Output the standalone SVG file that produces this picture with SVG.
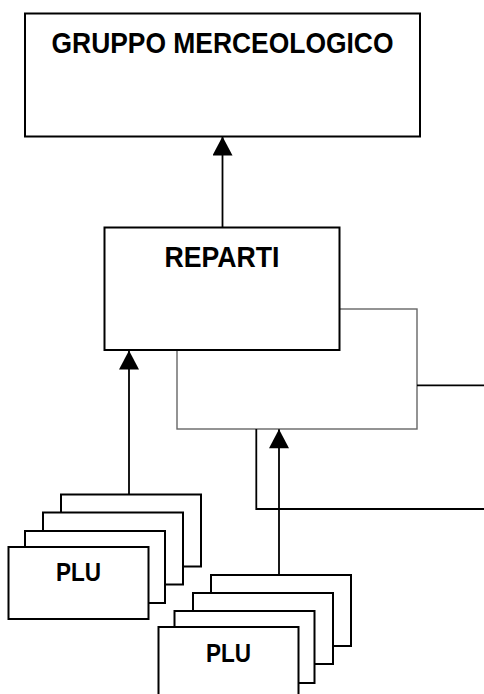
<svg xmlns="http://www.w3.org/2000/svg" width="484" height="694" viewBox="0 0 484 694">
<defs>
<style>
.box{fill:#fff;stroke:#000;stroke-width:2}
.gray{fill:none;stroke:#666;stroke-width:1.4}
.ln{fill:none;stroke:#000;stroke-width:1.8}
.t{font-family:"Liberation Sans",Arial,sans-serif;font-weight:bold;fill:#000;text-anchor:middle}
.big{font-size:30px}
.small{font-size:25.5px}
</style>
<marker id="ah" markerUnits="userSpaceOnUse" markerWidth="20" markerHeight="20" viewBox="0 0 19 20" refX="19" refY="10" orient="auto">
<path d="M0,0 L19,10 L0,20 z" fill="#000"/>
</marker>
</defs>
<rect width="484" height="694" fill="#fff"/>
<g id="gruppo">
<rect class="box" x="25" y="13.5" width="395" height="123"/>
<text class="t big" x="222.5" y="53.3" textLength="342" lengthAdjust="spacingAndGlyphs">GRUPPO MERCEOLOGICO</text>
</g>
<g id="sub-reparti">
<rect class="gray" x="177" y="309" width="240" height="120"/>
</g>
<g id="reparti">
<rect class="box" x="104.5" y="227.5" width="235" height="122.5"/>
<text class="t big" x="222" y="267.3" textLength="115" lengthAdjust="spacingAndGlyphs">REPARTI</text>
</g>
<g id="plu1">
<rect class="box" x="61" y="494.5" width="140" height="72"/>
<rect class="box" x="43" y="512.5" width="140" height="72"/>
<rect class="box" x="25" y="531" width="140" height="72"/>
<rect class="box" x="8.5" y="547" width="140" height="72"/>
<text class="t small" x="78.5" y="581" textLength="45" lengthAdjust="spacingAndGlyphs">PLU</text>
</g>
<g id="plu2">
<rect class="box" x="211" y="575" width="140" height="71"/>
<rect class="box" x="193" y="593" width="140" height="71"/>
<rect class="box" x="174.5" y="611" width="140" height="72"/>
<rect class="box" x="158.5" y="627" width="140" height="72"/>
<text class="t small" x="228.5" y="661.7" textLength="45" lengthAdjust="spacingAndGlyphs">PLU</text>
</g>
<g id="connectors">
<line class="ln" x1="222.5" y1="227.5" x2="222.5" y2="136.5" marker-end="url(#ah)"/>
<line class="ln" x1="129" y1="494.5" x2="129" y2="350.5" marker-end="url(#ah)"/>
<line class="ln" x1="279" y1="575" x2="279" y2="429.3" marker-end="url(#ah)"/>
<line class="ln" x1="417" y1="385.3" x2="484" y2="385.3"/>
<polyline class="ln" points="256.3,429 256.3,509 484,509"/>
</g>
</svg>
